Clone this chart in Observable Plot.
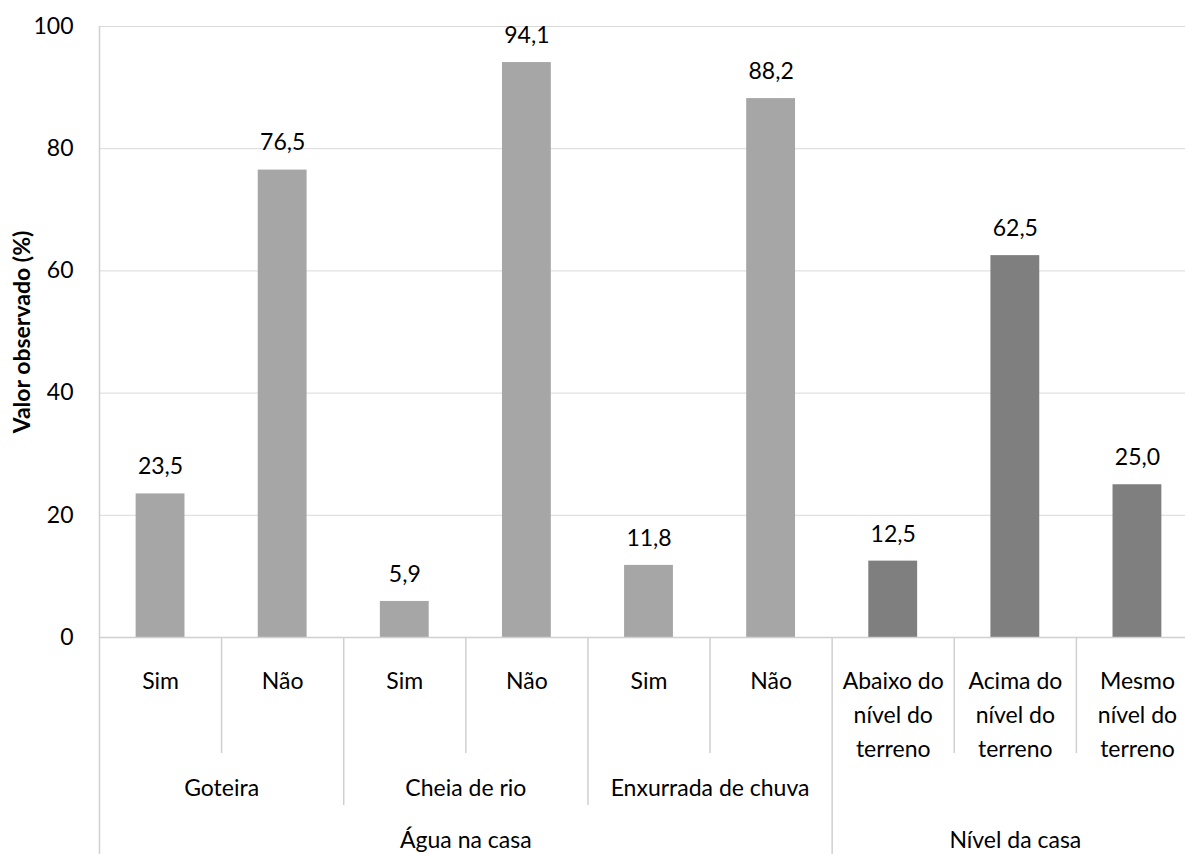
<!DOCTYPE html>
<html>
<head>
<meta charset="utf-8">
<script src="https://cdn.jsdelivr.net/npm/d3@7"></script>
<script src="https://cdn.jsdelivr.net/npm/@observablehq/plot@0.6"></script>
<style>
  html, body { margin: 0; padding: 0; background: #fff; overflow: hidden; }
  #chart svg { display: block; font-family: Lato, "Open Sans", sans-serif; }
</style>
</head>
<body>
<div id="chart"></div>
<script>
// ---- Data ----
const categories = ["Sim", "Não", "Sim", "Não", "Sim", "Não",
  "Abaixo do\nnível do\nterreno", "Acima do\nnível do\nterreno", "Mesmo\nnível do\nterreno"];
const subgroups = ["Goteira", "Goteira", "Cheia de rio", "Cheia de rio",
  "Enxurrada de chuva", "Enxurrada de chuva", null, null, null];
const groups = ["Água na casa", "Água na casa", "Água na casa", "Água na casa",
  "Água na casa", "Água na casa", "Nível da casa", "Nível da casa", "Nível da casa"];
const values = [23.5, 76.5, 5.9, 94.1, 11.8, 88.2, 12.5, 62.5, 25.0];
const yTicks = [0, 20, 40, 60, 80, 100];
const yLabel = "Valor observado (%)";
const groupColors = {"Água na casa": "#a6a6a6", "Nível da casa": "#7f7f7f"};

// ---- Derived tables ----
const data = values.map((v, i) => ({i, value: v, category: categories[i], subgroup: subgroups[i], group: groups[i]}));

function spans(keyArr) {
  const out = [];
  keyArr.forEach((k, i) => {
    const last = out[out.length - 1];
    if (last && last.key === k && k !== null) last.end = i;
    else out.push({key: k, start: i, end: i});
  });
  return out;
}
const subSpans = spans(subgroups);
const grpSpans = spans(groups);

// boundaries (in index units) between neighbouring categories, by level
const n = categories.length;
const allBounds = d3.range(n + 1).map(k => k - 0.5);
const grpBounds = new Set(grpSpans.flatMap(s => [s.start - 0.5, s.end + 0.5]));
const subBounds = new Set(subSpans.filter(s => s.key !== null).flatMap(s => [s.start - 0.5, s.end + 0.5]));
const level3 = allBounds.filter(b => grpBounds.has(b));
const level2 = allBounds.filter(b => !grpBounds.has(b) && subBounds.has(b));
const level1 = allBounds.filter(b => !grpBounds.has(b) && !subBounds.has(b));

const subLabels = subSpans.filter(s => s.key !== null).map(s => ({x: (s.start + s.end) / 2, text: s.key}));
const grpLabels = grpSpans.map(s => ({x: (s.start + s.end) / 2, text: s.key}));

const fmt = v => d3.format(".1f")(v).replace(".", ",");
const sepColor = "#d0d0d0";
const fs = 23;

const chart = Plot.plot({
  width: 1185,
  height: 854,
  marginLeft: 99,
  marginRight: -13,
  marginTop: 26,
  marginBottom: 217,
  style: {fontFamily: "Lato, 'Open Sans', sans-serif", fontSize: fs + "px", color: "#000", background: "#fff"},
  x: {type: "linear", domain: [-0.5, n - 0.5], axis: null},
  y: {domain: [0, 100], axis: null},
  marks: [
    Plot.gridY(yTicks, {stroke: "#d9d9d9", strokeOpacity: 1, strokeWidth: 1}),
    Plot.ruleX([-0.5], {stroke: sepColor, strokeWidth: 1.5}),
    Plot.axisY(yTicks, {tickSize: 0, tickPadding: 26, fontSize: fs, fill: "#000", label: null}),
    Plot.text([yLabel], {frameAnchor: "left", textAnchor: "middle", dx: -77, rotate: -90, fontWeight: "bold", fontSize: fs, fill: "#000"}),
    Plot.rectY(data, {x1: d => d.i - 0.2, x2: d => d.i + 0.2, y: "value", fill: d => groupColors[d.group]}),
    Plot.text(data, {x: "i", y: "value", text: d => fmt(d.value), dy: -27, fontSize: fs, fill: "#000"}),
    Plot.ruleY([0], {stroke: sepColor, strokeWidth: 1.5}),
    // multi-level category axis separators
    Plot.ruleX(level1, {x: d => d, y1: 0, y2: 0, insetBottom: -116, stroke: sepColor, strokeWidth: 1.5}),
    Plot.ruleX(level2, {x: d => d, y1: 0, y2: 0, insetBottom: -168, stroke: sepColor, strokeWidth: 1.5}),
    Plot.ruleX(level3, {x: d => d, y1: 0, y2: 0, insetBottom: -230, stroke: sepColor, strokeWidth: 1.5}),
    // category labels
    Plot.text(data, {x: "i", text: "category", frameAnchor: "bottom", lineAnchor: "top", dy: 27, lineHeight: 1.48, fontSize: fs, fill: "#000"}),
    Plot.text(subLabels, {x: "x", text: "text", frameAnchor: "bottom", lineAnchor: "top", dy: 142, fontSize: fs, fill: "#000"}),
    Plot.text(grpLabels, {x: "x", text: "text", frameAnchor: "bottom", lineAnchor: "top", dy: 194, fontSize: fs, fill: "#000"})
  ]
});
document.getElementById("chart").appendChild(chart);
</script>
</body>
</html>
